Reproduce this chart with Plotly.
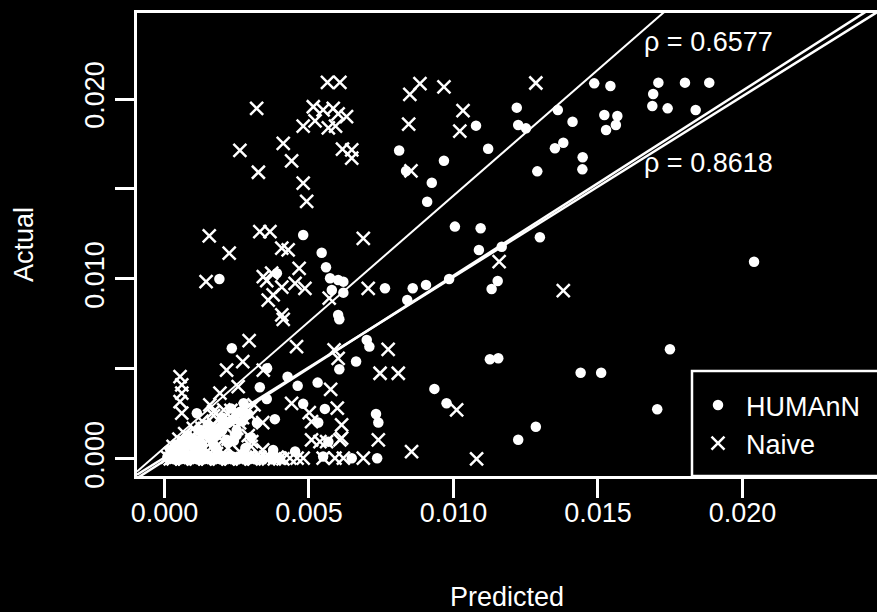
import plotly.graph_objects as go

# ---------------- data ----------------
naive_x = [
    0.00319, 0.00564, 0.00607, 0.00515, 0.00549, 0.00584, 0.00601, 0.00630, 0.00480, 0.00521,
    0.00567, 0.00592, 0.00261, 0.00411, 0.00440, 0.00325, 0.00480, 0.00492, 0.00616, 0.00648,
    0.00648, 0.00884, 0.00849, 0.00845, 0.00853, 0.00967, 0.01285, 0.01033, 0.01022, 0.01158,
    0.01380, 0.01011, 0.01080,
    0.00155, 0.00330, 0.00365, 0.00224, 0.00688, 0.00406, 0.00428, 0.00466, 0.00144, 0.00342,
    0.00371, 0.00354, 0.00406, 0.00452, 0.00486, 0.00359, 0.00376, 0.00406, 0.00411, 0.00570,
    0.00705, 0.00293, 0.00457, 0.00271, 0.00215, 0.00342, 0.00587, 0.00601, 0.00774, 0.00746,
    0.00809,
    0.00054, 0.00060, 0.00060, 0.00054, 0.00060, 0.00192, 0.00157, 0.00255, 0.00440, 0.00575,
    0.00598, 0.00501, 0.00509, 0.00613, 0.00340, 0.00740, 0.00855, 0.00302, 0.00509, 0.00561,
    0.00607, 0.00613, 0.00538, 0.00170, 0.00205,
    0.00400, 0.00434, 0.00459, 0.00480, 0.00549, 0.00590, 0.00619, 0.00688,
    0.0002, 0.0003, 0.0004, 0.0005, 0.0006, 0.0007, 0.0008, 0.0009, 0.0010, 0.0011,
    0.0012, 0.0013, 0.0014, 0.0015, 0.0016, 0.0017, 0.0018, 0.0019, 0.0020, 0.0022,
    0.0023, 0.0025, 0.0027, 0.0029, 0.0031,
    0.0003, 0.0005, 0.0007, 0.0009, 0.0011, 0.0013, 0.0015, 0.0017, 0.0019, 0.0021,
    0.0024, 0.0026, 0.0028, 0.0030, 0.0006, 0.0010, 0.0014, 0.0018, 0.0022, 0.0026,
    0.0030, 0.0034,
    0.0001, 0.0002, 0.0003, 0.0004, 0.0005, 0.0006, 0.0007, 0.0008, 0.0009, 0.0010,
    0.0011, 0.0012, 0.0013, 0.0014, 0.0015, 0.0016, 0.0017, 0.0018, 0.0019, 0.0020,
    0.0021, 0.0022, 0.0023, 0.0024, 0.0025, 0.0026, 0.0027, 0.0028, 0.0029, 0.0030,
    0.0031, 0.0033, 0.0035, 0.0036, 0.0038, 0.0039, 0.0041,
]
naive_y = [
    0.01948, 0.02093, 0.02093, 0.01957, 0.01939, 0.01948, 0.01917, 0.01902, 0.01850, 0.01878,
    0.01839, 0.01850, 0.01714, 0.01754, 0.01656, 0.01593, 0.01532, 0.01431, 0.01722, 0.01717,
    0.01671, 0.02086, 0.02026, 0.01861, 0.01600, 0.02068, 0.02089, 0.01936, 0.01821, 0.01096,
    0.00935, 0.00272, 0.00000,
    0.01239, 0.01263, 0.01263, 0.01143, 0.01226, 0.01171, 0.01161, 0.01059, 0.00985, 0.01013,
    0.01032, 0.00991, 0.00954, 0.00976, 0.00948, 0.00883, 0.00911, 0.00800, 0.00776, 0.00893,
    0.00948, 0.00657, 0.00624, 0.00541, 0.00494, 0.00494, 0.00606, 0.00559, 0.00609, 0.00476,
    0.00476,
    0.00457, 0.00411, 0.00365, 0.00318, 0.00254, 0.00365, 0.00300, 0.00402, 0.00309, 0.00387,
    0.00282, 0.00257, 0.00207, 0.00189, 0.00202, 0.00106, 0.00041, 0.00096, 0.00106, 0.00096,
    0.00106, 0.00115, 0.00096, 0.00263, 0.00272,
    0.00004, 0.00004, 0.00004, 0.00004, 0.00004, 0.00004, 0.00004, 0.00004,
    0.0003, 0.0007, 0.0002, 0.0011, 0.0005, 0.0014, 0.0002, 0.0009, 0.0017, 0.0006,
    0.0013, 0.0021, 0.0003, 0.0010, 0.0018, 0.0024, 0.0007, 0.0015, 0.0022, 0.0011,
    0.0027, 0.0017, 0.0023, 0.0013, 0.0030,
    0.0004, 0.0007, 0.0009, 0.0012, 0.0015, 0.0017, 0.0014, 0.0019, 0.0012, 0.0018,
    0.0025, 0.0020, 0.0028, 0.0024, 0.0002, 0.0004, 0.0006, 0.0003, 0.0006, 0.0004,
    0.0007, 0.0005,
    0.0001, 0.0000, 0.0000, 0.0001, 0.0001, 0.0000, 0.0000, 0.0001, 0.0001, 0.0000,
    0.0000, 0.0001, 0.0001, 0.0000, 0.0000, 0.0001, 0.0001, 0.0000, 0.0000, 0.0001,
    0.0001, 0.0000, 0.0000, 0.0001, 0.0001, 0.0000, 0.0000, 0.0001, 0.0001, 0.0000,
    0.0000, 0.0001, 0.0001, 0.0000, 0.0000, 0.0001, 0.0000,
]

humann_x = [
    0.01487, 0.01543, 0.01709, 0.01801, 0.01885, 0.01691, 0.01688, 0.01741, 0.01838, 0.01522,
    0.01567, 0.01562, 0.01528, 0.01219, 0.01224, 0.01251, 0.01361, 0.01412, 0.01351, 0.01380,
    0.01447, 0.01446, 0.01290, 0.01078, 0.01120, 0.00967, 0.00925, 0.00909, 0.00812, 0.00836,
    0.01005, 0.01094, 0.01299, 0.01088, 0.01167, 0.00985, 0.01153, 0.01132, 0.01126, 0.01155,
    0.00934, 0.00976, 0.01285, 0.01224, 0.01440, 0.01511, 0.01705, 0.01749, 0.02040,
    0.00480, 0.00544, 0.00559, 0.00190, 0.00573, 0.00601, 0.00619, 0.00579, 0.00619, 0.00601,
    0.00605, 0.00763, 0.00859, 0.00905, 0.00840, 0.00700, 0.00709, 0.00663, 0.00605, 0.00233,
    0.00426, 0.00461, 0.00530, 0.00330, 0.00354, 0.00480, 0.00555, 0.00382, 0.00532, 0.00732,
    0.00740, 0.00250, 0.00215, 0.00736, 0.00648, 0.00452, 0.00376, 0.00549, 0.00389, 0.00355,
    0.00274, 0.00112, 0.00567,
    0.0001, 0.0002, 0.0003, 0.0004, 0.0005, 0.0006, 0.0007, 0.0008, 0.0009, 0.0010,
    0.0011, 0.0012, 0.0013, 0.0014, 0.0015, 0.0016, 0.0018, 0.0019, 0.0020, 0.0022,
    0.0023, 0.0025, 0.0027, 0.0030,
    0.0002, 0.0004, 0.0006, 0.0008, 0.0010, 0.0012, 0.0014, 0.0016, 0.0018, 0.0020,
    0.0022, 0.0024, 0.0026, 0.0029, 0.0032, 0.0012, 0.0017, 0.0024, 0.0028,
    0.0002, 0.0003, 0.0004, 0.0005, 0.0006, 0.0007, 0.0008, 0.0009, 0.0010, 0.0011,
    0.0012, 0.0013, 0.0014, 0.0015, 0.0016, 0.0017, 0.0018, 0.0019, 0.0020, 0.0021,
    0.0022, 0.0023, 0.0024, 0.0025, 0.0026, 0.0028, 0.0030, 0.0031, 0.0034, 0.0037,
    0.0040,
]
humann_y = [
    0.02087, 0.02072, 0.02091, 0.02091, 0.02091, 0.02028, 0.01961, 0.01948, 0.01939, 0.01911,
    0.01906, 0.01856, 0.01828, 0.01952, 0.01856, 0.01837, 0.01939, 0.01874, 0.01726, 0.01757,
    0.01676, 0.01609, 0.01598, 0.01852, 0.01724, 0.01657, 0.01535, 0.01429, 0.01714, 0.01600,
    0.01291, 0.01282, 0.01232, 0.01161, 0.01179, 0.01000, 0.00989, 0.00944, 0.00554, 0.00559,
    0.00389, 0.00309, 0.00179, 0.00106, 0.00479, 0.00479, 0.00276, 0.00609, 0.01096,
    0.01244, 0.01146, 0.01065, 0.01000, 0.01004, 0.00994, 0.00985, 0.00939, 0.00924, 0.00800,
    0.00776, 0.00948, 0.00948, 0.00967, 0.00883, 0.00661, 0.00624, 0.00541, 0.00498, 0.00615,
    0.00457, 0.00406, 0.00424, 0.00398, 0.00333, 0.00306, 0.00278, 0.00221, 0.00202, 0.00250,
    0.00202, 0.00133, 0.00106, 0.00004, 0.00004, 0.00041, 0.00050, 0.00013, 0.01032, 0.00504,
    0.00309, 0.00254, 0.00096,
    0.0001, 0.0005, 0.0002, 0.0008, 0.0003, 0.0010, 0.0005, 0.0013, 0.0002, 0.0011,
    0.0004, 0.0016, 0.0008, 0.0003, 0.0019, 0.0012, 0.0006, 0.0017, 0.0023, 0.0009,
    0.0028, 0.0016, 0.0021, 0.0012,
    0.0002, 0.0004, 0.0006, 0.0008, 0.0007, 0.0010, 0.0014, 0.0016, 0.0013, 0.0016,
    0.0020, 0.0022, 0.0026, 0.0025, 0.0020, 0.0005, 0.0008, 0.0010, 0.0006,
    0.0001, 0.0000, 0.0001, 0.0000, 0.0001, 0.0000, 0.0001, 0.0000, 0.0001, 0.0000,
    0.0001, 0.0000, 0.0001, 0.0000, 0.0001, 0.0000, 0.0001, 0.0000, 0.0001, 0.0000,
    0.0001, 0.0000, 0.0001, 0.0000, 0.0001, 0.0000, 0.0001, 0.0000, 0.0000, 0.0000,
    0.0000,
]

# fitted lines (intercept, slope) and their correlation labels
naive_fit = (0.00063, 1.40)
humann_fit = (-0.000096, 1.028)
identity_fit = (0.000072, 1.004)
rho_labels = ["ρ = 0.6577", "ρ = 0.8618"]
rho_pos = [(0.01884, 0.02317), (0.01884, 0.01644)]

x_tick_vals = [0.000, 0.005, 0.010, 0.015, 0.020]
x_tick_text = ["0.000", "0.005", "0.010", "0.015", "0.020"]
y_tick_vals = [0.000, 0.005, 0.010, 0.015, 0.020]
y_tick_text = ["0.000", "", "0.010", "", "0.020"]

x_range = [-0.00095, 0.024654]
y_range = [-0.00095, 0.02478]

FONT = "Liberation Sans, Arial, sans-serif"
FS = 27

fig = go.Figure()

fig.add_trace(go.Scatter(
    x=humann_x, y=humann_y, mode="markers", name="HUMAnN",
    marker=dict(symbol="circle", size=10.5, color="white", line=dict(width=0)),
))
fig.add_trace(go.Scatter(
    x=naive_x, y=naive_y, mode="markers", name="Naive",
    marker=dict(symbol="x-thin", size=13, color="white", line=dict(width=2.5, color="white")),
))

line_x = [x_range[0], x_range[1]]
for (a, b), w in [(naive_fit, 2), (humann_fit, 2.5), (identity_fit, 2.5)]:
    fig.add_trace(go.Scatter(
        x=line_x, y=[a + b * v for v in line_x], mode="lines",
        line=dict(color="white", width=w), showlegend=False, hoverinfo="skip",
    ))

for txt, (tx, ty) in zip(rho_labels, rho_pos):
    fig.add_annotation(x=tx, y=ty, xref="x", yref="y", text=txt, showarrow=False,
                       font=dict(family=FONT, size=FS, color="white"),
                       xanchor="center", yanchor="middle")

# legend frame (right side runs off the page as in the original)
fig.add_shape(type="rect", xref="paper", yref="paper",
              x0=(692 - 137) / 740, x1=1.1, y0=0, y1=(476 - 371) / 463,
              line=dict(color="white", width=2.5), fillcolor="black", layer="below")

axis_common = dict(
    showgrid=False, zeroline=False, showline=True, linecolor="white", linewidth=2.5,
    ticks="outside", ticklen=19, tickwidth=2.5, tickcolor="white",
    tickfont=dict(family=FONT, size=FS, color="white"),
    title_font=dict(family=FONT, size=FS, color="white"),
)

fig.update_layout(
    width=877, height=612,
    margin=dict(l=137, r=0, t=13, b=136, autoexpand=False),
    paper_bgcolor="black", plot_bgcolor="black",
    xaxis=dict(range=x_range, mirror=True, tickvals=x_tick_vals, ticktext=x_tick_text,
               ticklabelstandoff=-8,
               title=dict(text="Predicted", standoff=64), **axis_common),
    yaxis=dict(range=y_range, mirror=False, tickangle=-90,
               tickvals=y_tick_vals, ticktext=y_tick_text,
               title=dict(text="Actual", standoff=40), **axis_common),
    legend=dict(x=(690 - 137) / 740, y=(476 - 381) / 463, xanchor="left", yanchor="top",
                bgcolor="rgba(0,0,0,0)", borderwidth=0,
                font=dict(family=FONT, size=FS, color="white"), itemwidth=46),
    showlegend=True,
)

fig.write_html("out.html")
